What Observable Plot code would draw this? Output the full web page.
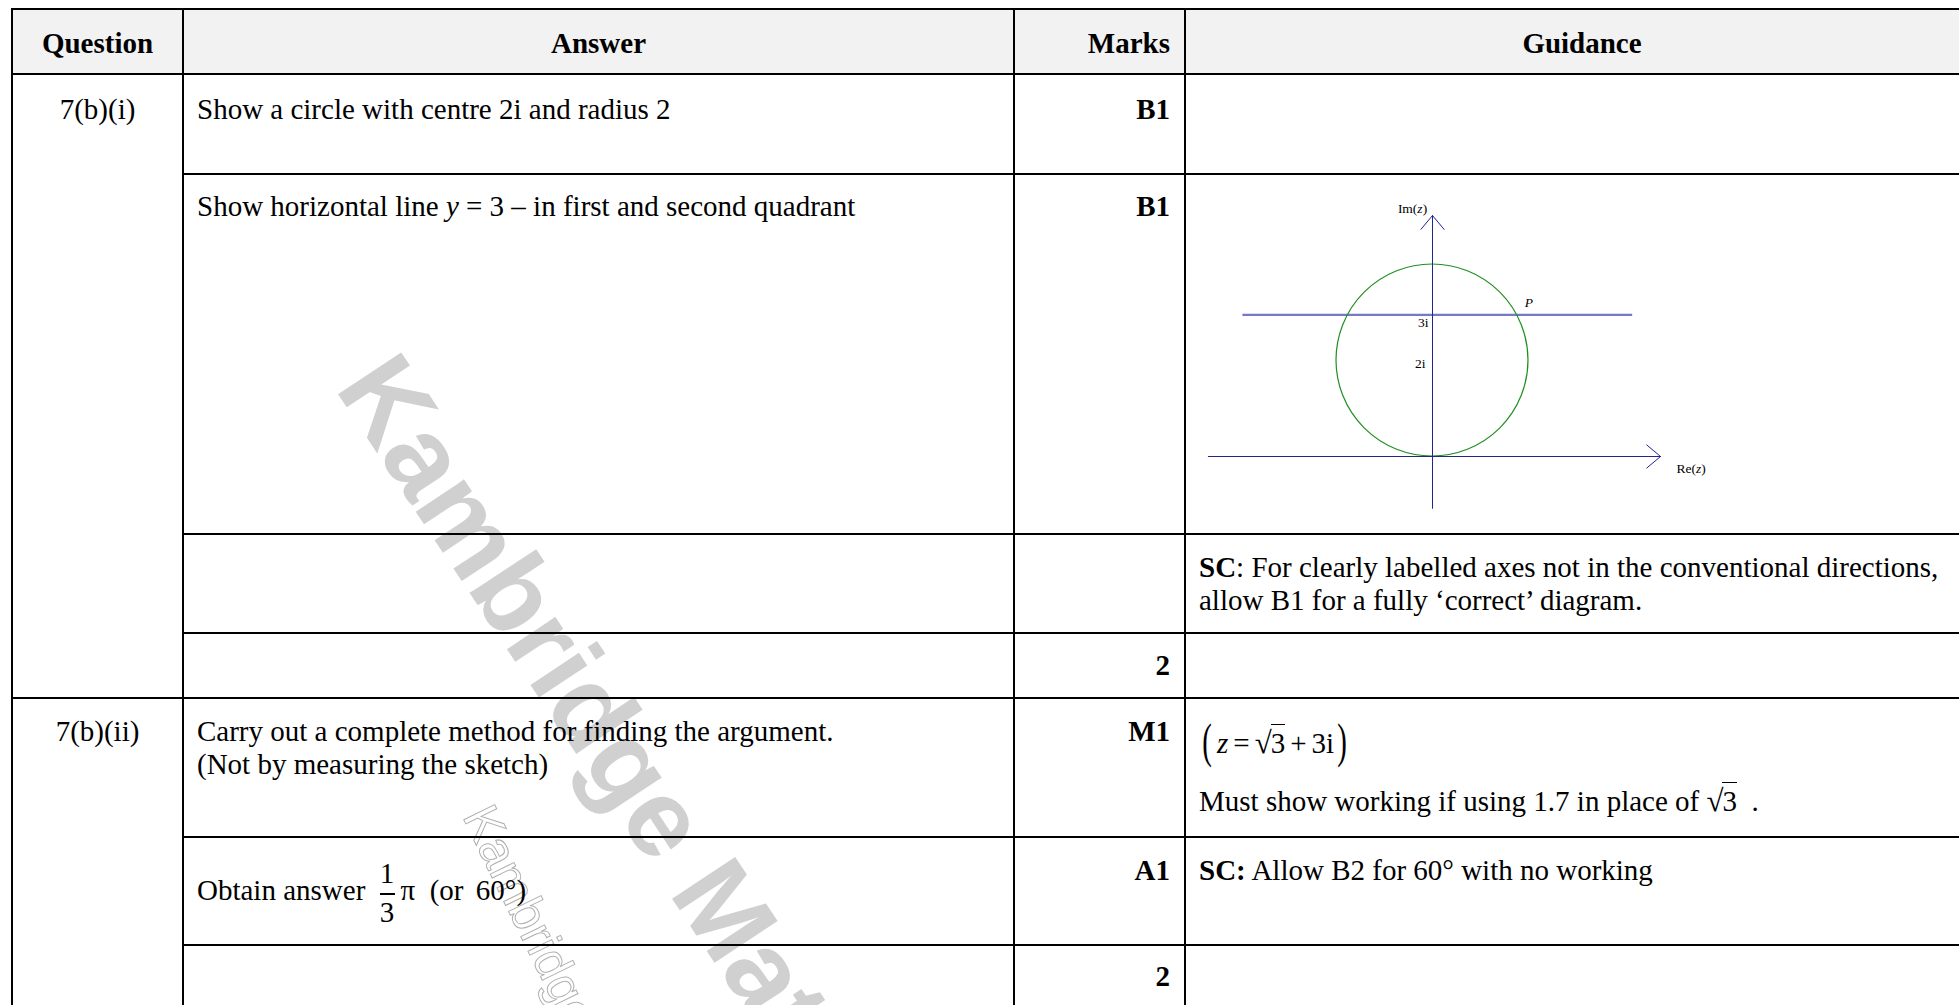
<!DOCTYPE html>
<html>
<head>
<meta charset="utf-8">
<script src="https://cdn.jsdelivr.net/npm/d3@7"></script>
<script src="https://cdn.jsdelivr.net/npm/@observablehq/plot@0.6"></script>
<style>
  html, body { margin:0; padding:0; background:#fff; overflow:hidden; }
  #page { position:relative; width:1959px; height:1005px; overflow:hidden;
          font-family:"Liberation Serif","Times New Roman",serif; font-size:29px; color:#000; }
  .cell { position:absolute; line-height:33px; white-space:nowrap; z-index:3; }
  .bold { font-weight:bold; }
  .hl { position:absolute; height:2px; background:#000; z-index:4; }
  .vl { position:absolute; width:2px; background:#000; z-index:4; }
  .hdrbg { position:absolute; background:#f2f2f2; z-index:0; }
  .ol { border-top:1.4px solid #000; padding-top:1.5px; }
  .rad { font-size:31px; margin-right:-1px; }
  .sp { display:inline-block; width:5px; }
  .bp { display:inline-block; font-size:48px; line-height:20px; transform:scaleX(0.6); position:relative; top:4px; margin:0 -3px 0 0; }
  .frac { display:inline-block; position:relative; width:15px; height:0; margin:0 6px 0 7px; }
  .frac .num, .frac .den { position:absolute; left:-6px; right:-6px; text-align:center; line-height:29px; }
  .frac .num { top:-40.3px; }
  .frac .den { top:-1.3px; }
  .frac .bar { position:absolute; left:0; width:15px; top:-6.5px; height:1.5px; background:#000; }
  #wm { position:absolute; left:0; top:0; z-index:1; }
</style>
</head>
<body>
<div id="page"></div>
<script>
// ---------------- DATA ----------------
const headers = ["Question", "Answer", "Marks", "Guidance"];
const questionIds = ["7(b)(i)", "7(b)(ii)"];
const questionFirstRow = [0, 4];

const SQRT3 = '<span class="rad">√</span><span class="ol">3</span>';
const answerTexts = [
  "Show a circle with centre 2i and radius 2",
  "Show horizontal line <i>y</i> = 3 – in first and second quadrant",
  "",
  "",
  "Carry out a complete method for finding the argument.<br>(Not by measuring the sketch)",
  'Obtain answer <span class="frac"><span class="num">1</span><span class="bar"></span><span class="den">3</span></span>π&nbsp;&nbsp;(or&nbsp;<span class="sp"></span>60°)',
  ""
];
const markTexts = ["B1", "B1", "", "2", "M1", "A1", "2"];
const guidanceTexts = [
  [""],
  [""],
  ["<b>SC</b>: For clearly labelled axes not in the conventional directions,<br>allow B1 for a fully ‘correct’ diagram."],
  [""],
  ['<span class="bp">(</span><span class="sp"></span><i>z</i><span class="sp"></span>=<span class="sp"></span>' + SQRT3 + '<span class="sp"></span>+<span class="sp"></span>3i<span class="bp">)</span>',
   "Must show working if using 1.7 in place of " + SQRT3 + "&nbsp; ."],
  ["<b>SC:</b> Allow B2 for 60° with no working"],
  [""]
];

// diagram data (complex plane units)
const circleCentre = [0, 2];
const circleRadius = 2;
const horizontalLine = {y: 2.95, x1: -3.95, x2: 4.17};
const reAxisRange = [-4.67, 4.75];
const imAxisRange = [-1.08, 5.02];
const diagramLabels = [
  {label: "Im(z)", x: 0, y: 5.02},
  {label: "Re(z)", x: 4.75, y: 0},
  {label: "3i", x: 0, y: 3},
  {label: "2i", x: 0, y: 2},
  {label: "P", x: 1.732, y: 3}
];
const watermarkText = "Kambridge Maths";

// ---------------- LAYOUT ----------------
const colEdges = [12, 183, 1014, 1185, 1979];
const rowEdges = [9.3, 74.3, 173.5, 533.5, 632.7, 697.7, 836.7, 944.5, 1080];
const fullWidthRows = [0, 1, 5];
const padX = 14;
const asc = 26.3;          // baseline distance from top of a 33px line box
const page = document.getElementById("page");

function el(cls, styles, html) {
  const d = document.createElement("div");
  d.className = cls;
  Object.assign(d.style, styles);
  if (html != null) d.innerHTML = html;
  page.appendChild(d);
  return d;
}
function cell(html, x0, x1, baseline, align, extra) {
  if (!html) return;
  el("cell " + (extra || ""), {left: x0 + "px", width: (x1 - x0) + "px", top: (baseline - asc) + "px", textAlign: align}, html);
}

// header background
el("hdrbg", {left: colEdges[0] + "px", top: rowEdges[0] + "px", width: (colEdges[4] - colEdges[0]) + "px", height: (rowEdges[1] - rowEdges[0]) + "px"});

// grid lines
rowEdges.slice(0, 8).forEach((y, i) => {
  const x0 = fullWidthRows.includes(i) ? colEdges[0] : colEdges[1];
  el("hl", {left: (x0 - 1) + "px", top: (y - 1) + "px", width: (colEdges[4] - x0 + 2) + "px"});
});
colEdges.forEach(x => {
  el("vl", {left: (x - 1) + "px", top: (rowEdges[0] - 1) + "px", height: "1100px"});
});

// header text
const hb = rowEdges[0] + 44;
cell(headers[0], colEdges[0], colEdges[1], hb, "center", "bold");
cell(headers[1], colEdges[1], colEdges[2], hb, "center", "bold");
cell(headers[2], colEdges[2], colEdges[3] - 15, hb, "right", "bold");
cell(headers[3], colEdges[3], colEdges[4], hb, "center", "bold");

// body rows
const rowBaseOff = [45, 43.2, 43.5, 42.3, 43.2, 43.3, 41.5];
const answerOff = {5: 63.3};
const guidanceOff = {4: [54.3, 112.3]};
questionIds.forEach((q, k) => {
  const top = rowEdges[questionFirstRow[k] + 1];
  cell(q, colEdges[0], colEdges[1], top + rowBaseOff[questionFirstRow[k]], "center");
});
answerTexts.forEach((t, i) => {
  const top = rowEdges[i + 1];
  cell(t, colEdges[1] + padX, colEdges[2] - padX, top + (answerOff[i] ?? rowBaseOff[i]), "left");
});
markTexts.forEach((t, i) => {
  const top = rowEdges[i + 1];
  cell(t, colEdges[2], colEdges[3] - 15, top + rowBaseOff[i], "right", "bold");
});
guidanceTexts.forEach((parts, i) => {
  const top = rowEdges[i + 1];
  parts.forEach((t, j) => {
    const off = guidanceOff[i] ? guidanceOff[i][j] : rowBaseOff[i];
    cell(t, colEdges[3] + padX, colEdges[4] - padX, top + off, "left");
  });
});

// watermarks
const wm = d3.create("svg").attr("id", "wm").attr("width", 1959).attr("height", 1005);
wm.append("text").attr("transform", "translate(334,388) rotate(56.5)")
  .attr("font-family", "Liberation Sans, Arial, sans-serif").attr("font-weight", "bold")
  .attr("font-size", 110).attr("fill", "#d0d0d0").text(watermarkText);
wm.append("text").attr("transform", "translate(462,816) rotate(64)")
  .attr("font-family", "Liberation Sans, Arial, sans-serif")
  .attr("font-size", 50).attr("fill", "#ffffff").attr("fill-opacity", 0).attr("stroke", "#b0b0b0").attr("stroke-width", 1).text(watermarkText);
page.appendChild(wm.node());

// ---------------- DIAGRAM (Observable Plot) ----------------
const unit = 48;
const xDom = [-5, 7], yDom = [-2, 6];
const originPx = [1432, 456];
const axesData = [
  {x1: reAxisRange[0], y1: 0, x2: reAxisRange[1], y2: 0},
  {x1: 0, y1: imAxisRange[0], x2: 0, y2: imAxisRange[1]}
];
const W = unit * (xDom[1] - xDom[0]), H = unit * (yDom[1] - yDom[0]);

function circleMark(index, scales) {
  const sx = (scales && scales.x) || d3.scaleLinear(xDom, [0, W]);
  const sy = (scales && scales.y) || d3.scaleLinear(yDom, [H, 0]);
  const cx = sx(circleCentre[0]), cy = sy(circleCentre[1]);
  const rx = sx(circleCentre[0] + circleRadius) - cx;
  const ry = cy - sy(circleCentre[1] + circleRadius);
  return d3.create("svg:ellipse").attr("cx", cx).attr("cy", cy).attr("rx", rx).attr("ry", ry)
    .attr("fill", "none").attr("stroke", "#1f8f1f").attr("stroke-width", 1.2).node();
}

const labelStyle = {
  "Im(z)": {textAnchor: "middle", dx: -20, dy: -7},
  "Re(z)": {textAnchor: "start", dx: 16, dy: 12},
  "3i": {textAnchor: "end", dx: -4, dy: 10},
  "2i": {textAnchor: "end", dx: -7, dy: 3},
  "P": {textAnchor: "start", dx: 9, dy: -10, fontStyle: "italic"}
};
const labelMarks = diagramLabels.map(d => Plot.text([d], {
  x: "x", y: "y", text: "label",
  fontFamily: "Liberation Serif, Times New Roman, serif", fontSize: 13.5, fill: "#000",
  ...labelStyle[d.label]
}));

const diagram = Plot.plot({
  width: W, height: H, margin: 0,
  x: {domain: xDom, axis: null},
  y: {domain: yDom, axis: null},
  style: {background: "transparent", overflow: "visible"},
  marks: [
    Plot.ruleY([horizontalLine], {y: "y", x1: "x1", x2: "x2", stroke: "#7878c8", strokeWidth: 2.4}),
    circleMark,
    Plot.arrow(axesData, {x1: "x1", y1: "y1", x2: "x2", y2: "y2", stroke: "#24248f", strokeWidth: 1, headLength: 27, headAngle: 80}),
    ...labelMarks
  ]
});
d3.select(diagram).selectAll("text").each(function() {
  const t = this.textContent;
  if (t.includes("(z)")) {
    const pre = t.slice(0, t.indexOf("(z)") + 1);
    this.textContent = "";
    const s = d3.select(this);
    s.append("tspan").text(pre);
    s.append("tspan").attr("font-style", "italic").text("z");
    s.append("tspan").text(")");
  }
});
Object.assign(diagram.style, {
  position: "absolute",
  left: (originPx[0] + xDom[0] * unit) + "px",
  top: (originPx[1] - yDom[1] * unit) + "px",
  zIndex: 2, background: "transparent", maxWidth: "none"
});
page.appendChild(diagram);
</script>
</body>
</html>
